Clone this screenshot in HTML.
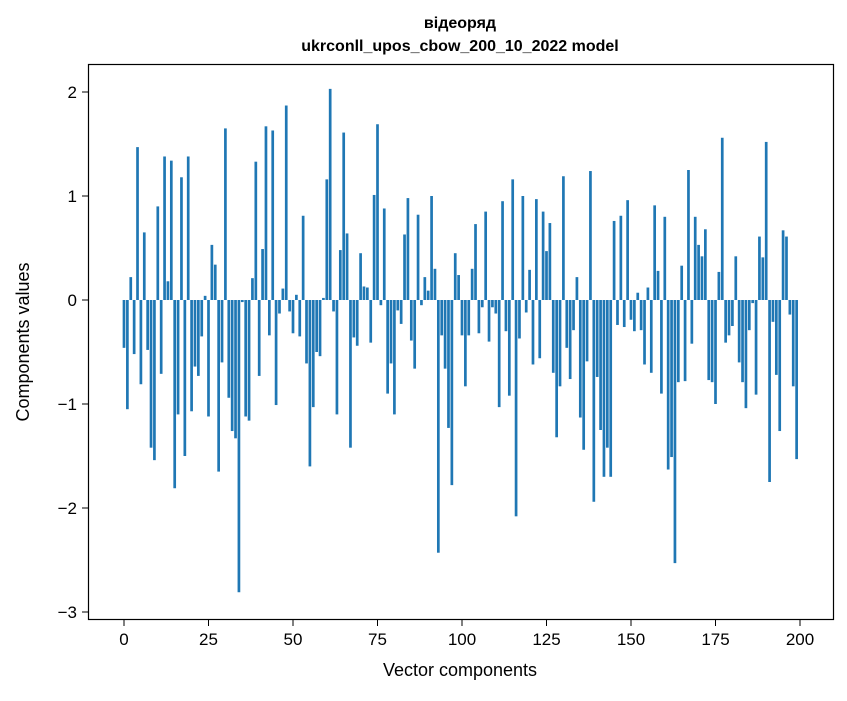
<!DOCTYPE html>
<html><head><meta charset="utf-8"><style>
body{margin:0;background:#fff;}
svg text{font-family:"Liberation Sans","DejaVu Sans",sans-serif;fill:#000;}
</style></head><body>
<svg id="chart" width="847" height="696" xmlns="http://www.w3.org/2000/svg">
<rect width="847" height="696" fill="#fff"/>
<text x="460" y="28" font-size="16" font-weight="bold" text-anchor="middle">відеоряд</text>
<text x="460" y="51" font-size="16" font-weight="bold" text-anchor="middle">ukrconll_upos_cbow_200_10_2022 model</text>
<g id="bars"></g>
<g id="xticks"></g>
<g id="yticks"></g>
<rect x="88.5" y="64.5" width="745" height="555" fill="none" stroke="#000" stroke-width="1.2"/>
<text x="460" y="676" font-size="18" text-anchor="middle">Vector components</text>
<text transform="translate(29,342) rotate(-90)" font-size="18" text-anchor="middle">Components values</text>
</svg>
<script>
const values = [
-0.46,-1.05,0.22,-0.52,1.47,-0.81,0.65,-0.48,-1.42,-1.54,
0.90,-0.71,1.38,0.18,1.34,-1.81,-1.10,1.18,-1.50,1.38,
-1.07,-0.64,-0.73,-0.35,0.04,-1.12,0.53,0.34,-1.65,-0.60,
1.65,-0.94,-1.26,-1.33,-2.81,-0.02,-1.12,-1.16,0.21,1.33,
-0.73,0.49,1.67,-0.34,1.63,-1.01,-0.13,0.11,1.87,-0.11,
-0.32,0.05,-0.35,0.81,-0.61,-1.60,-1.03,-0.50,-0.54,0.02,
1.16,2.03,-0.11,-1.10,0.48,1.61,0.64,-1.42,-0.36,-0.44,
0.45,0.13,0.12,-0.41,1.01,1.69,-0.05,0.88,-0.90,-0.61,
-1.10,-0.10,-0.23,0.63,0.98,-0.39,-0.66,0.82,-0.05,0.22,
0.09,1.00,0.30,-2.43,-0.34,-0.66,-1.23,-1.78,0.45,0.24,
-0.34,-0.83,-0.34,0.30,0.73,-0.32,-0.07,0.85,-0.40,-0.07,
-0.13,-1.03,0.95,-0.30,-0.92,1.16,-2.08,-0.37,1.00,-0.12,
0.29,-0.62,0.97,-0.56,0.85,0.47,0.74,-0.70,-1.32,-0.83,
1.19,-0.46,-0.76,-0.29,0.22,-1.13,-1.44,-0.59,1.24,-1.94,
-0.74,-1.25,-1.70,-1.42,-1.70,0.76,-0.24,0.81,-0.26,0.96,
-0.19,-0.30,0.07,-0.29,-0.62,0.12,-0.70,0.91,0.28,-0.90,
0.80,-1.63,-1.51,-2.53,-0.79,0.33,-0.78,1.25,-0.42,0.80,
0.53,0.42,0.68,-0.77,-0.79,-1.00,0.27,1.56,-0.41,-0.34,
-0.25,0.42,-0.60,-0.79,-1.04,-0.29,-0.03,-0.91,0.61,0.41,
1.52,-1.75,-0.21,-0.72,-1.26,0.67,0.61,-0.14,-0.83,-1.53];
const xTickValues = [0,25,50,75,100,125,150,175,200];
const yTickValues = [-3,-2,-1,0,1,2];
const yTickLabels = ["\u22123","\u22122","\u22121","0","1","2"];

const NS="http://www.w3.org/2000/svg";
function xScale(v){return 124+v*3.38;}
function yScale(v){return 300-v*104;}
const bars=document.getElementById('bars');
values.forEach((v,i)=>{
  const r=document.createElementNS(NS,'rect');
  const y0=yScale(0), y1=yScale(v);
  r.setAttribute('x',xScale(i)-1.35);
  r.setAttribute('width',2.7);
  r.setAttribute('y',Math.min(y0,y1));
  r.setAttribute('height',Math.max(Math.abs(y1-y0),0.5));
  r.setAttribute('fill','#1f77b4');
  
  
  bars.appendChild(r);
});
const xg=document.getElementById('xticks');
xTickValues.forEach(v=>{
  const x=xScale(v);
  const l=document.createElementNS(NS,'line');
  l.setAttribute('x1',x);l.setAttribute('x2',x);l.setAttribute('y1',620);l.setAttribute('y2',626);
  l.setAttribute('stroke','#000');
  
  
  xg.appendChild(l);
  const t=document.createElementNS(NS,'text');
  t.setAttribute('x',x);t.setAttribute('y',645);t.setAttribute('font-size','17');t.setAttribute('text-anchor','middle');
  t.textContent=v;
  
  
  xg.appendChild(t);
});
const yg=document.getElementById('yticks');
yTickValues.forEach((v,i)=>{
  const y=yScale(v);
  const l=document.createElementNS(NS,'line');
  l.setAttribute('x1',82);l.setAttribute('x2',88);l.setAttribute('y1',y);l.setAttribute('y2',y);
  l.setAttribute('stroke','#000');
  
  
  yg.appendChild(l);
  const t=document.createElementNS(NS,'text');
  t.setAttribute('x',77);t.setAttribute('y',y+6);t.setAttribute('font-size','17');t.setAttribute('text-anchor','end');
  t.textContent=yTickLabels[i];
  
  
  yg.appendChild(t);
});
</script>
</body></html>
